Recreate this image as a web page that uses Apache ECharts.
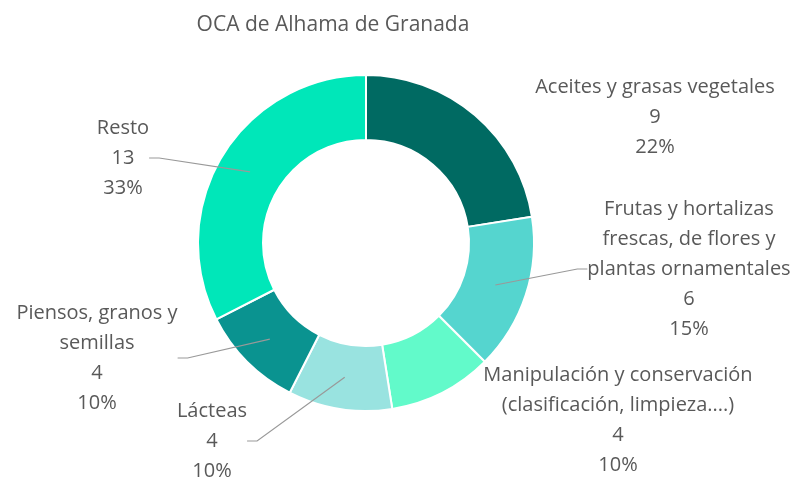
<!DOCTYPE html>
<html>
<head>
<meta charset="utf-8">
<script src="https://cdn.jsdelivr.net/npm/echarts@6/dist/echarts.min.js"></script>
<style>
  html, body { margin: 0; padding: 0; background: #fff; }
  #main { width: 803px; height: 482px; }
</style>
</head>
<body>
<div id="main"></div>
<script>
var categories = [
  'Aceites y grasas vegetales',
  'Frutas y hortalizas\nfrescas, de flores y\nplantas ornamentales',
  'Manipulación y conservación\n(clasificación, limpieza....)',
  'Lácteas',
  'Piensos, granos y\nsemillas',
  'Resto'
];
var values = [9, 6, 4, 4, 4, 13];
var percents = ['22%', '15%', '10%', '10%', '10%', '33%'];
var colors = ['#006A62', '#55D5CF', '#62FACA', '#99E3E0', '#0A9390', '#00E7B9'];

// posiciones de las etiquetas (centro del bloque de texto)
var labelPos = [
  [655, 117],
  [689, 269],
  [618, 420],
  [212, 441],
  [97, 358],
  [123, 158]
];
var showLine = [false, true, false, true, true, true];

var chart = echarts.init(document.getElementById('main'));

var ringData = categories.map(function (name, i) {
  return { name: name, value: values[i], itemStyle: { color: colors[i] } };
});

var labelData = categories.map(function (name, i) {
  return {
    name: name,
    value: values[i],
    labelLine: { show: showLine[i] }
  };
});

var option = {
  title: {
    text: 'OCA de Alhama de Granada',
    left: 328,
    top: 10,
    textAlign: 'center',
    textStyle: {
      color: '#595959',
      fontFamily: 'Open Sans',
      fontSize: 21,
      fontWeight: 'normal'
    }
  },
  series: [
    {
      type: 'pie',
      z: 1,
      center: [366, 243],
      radius: [103, 168],
      startAngle: 90,
      clockwise: true,
      silent: true,
      label: { show: false },
      labelLine: { show: false },
      itemStyle: { borderColor: '#fff', borderWidth: 2 },
      data: ringData
    },
    {
      // serie invisible: solo etiquetas, con las líneas desde la mitad del anillo
      type: 'pie',
      z: 5,
      center: [366, 243],
      radius: [0, 136],
      startAngle: 90,
      clockwise: true,
      silent: true,
      itemStyle: { color: 'rgba(0,0,0,0)' },
      label: {
        show: true,
        position: 'outside',
        color: '#595959',
        fontFamily: 'Open Sans',
        fontSize: 20,
        lineHeight: 30,
        align: 'center',
        formatter: function (p) {
          return p.name + '\n' + p.value + '\n' + percents[p.dataIndex];
        }
      },
      labelLine: {
        length: 0,
        length2: 10,
        lineStyle: { color: '#999', width: 1.2 }
      },
      labelLayout: function (params) {
        var pos = labelPos[params.dataIndex];
        return {
          x: pos[0],
          y: pos[1],
          align: 'center',
          verticalAlign: 'middle'
        };
      },
      data: labelData
    }
  ]
};

chart.setOption(option);
</script>
</body>
</html>
